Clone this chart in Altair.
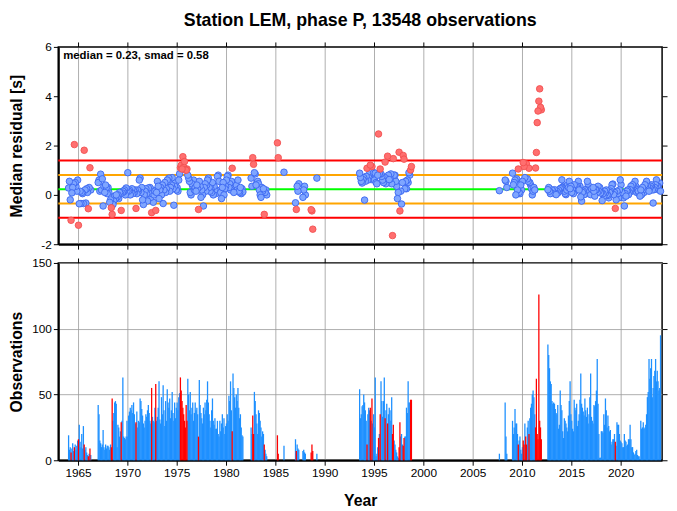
import altair as alt
import pandas as pd

TITLE = "Station LEM, phase P, 13548 observations"
MEDIAN = 0.23
SMAD = 0.58

# ---- monthly segments: start month, observation counts, median residuals ----
start_a = "1964-01"
counts_a = [19, 8, 10, 6, 9, 13, 7, 10, 12, 8, 11, 15,
            16, 27, 14, 10, 20, 9, 26, 12, 8, 10, 6, 4,
            3, 5, 9, 4]
resid_a = [0.28, 0.55, -0.2, -1.03, 0.08, 0.3, 0.45, 2.04, 0.5, 0.35, 0.15, 0.6,
           -1.23, -0.36, 0.15, -0.35, 0.1, 0.05, -0.35, 1.81, 0.2, -0.33, 0.25, 0.1,
           -0.56, 0.3, 1.1, 0.2]

start_b = "1967-01"
counts_b = [42, 35, 15, 13, 10, 12, 23, 10, 8, 12, 9, 11,
            11, 10, 8, 12, 10, 47, 30, 36, 44, 45, 43, 10,
            27, 25, 18, 22, 29, 30, 63, 18, 17, 16, 18, 30,
            18, 34, 37, 40, 38, 42, 36, 44, 35, 28, 29, 37,
            25, 30, 29, 47, 45, 39, 34, 28, 25, 30, 35, 33,
            38, 42, 36, 30, 28, 55, 33, 30, 29, 40, 58, 30,
            33, 40, 60, 31, 28, 48, 35, 57, 38, 26, 45, 30,
            54, 44, 40, 47, 32, 38, 52, 36, 30, 44, 32, 40,
            44, 38, 48, 51, 63, 53, 45, 40, 35, 30, 25, 42,
            30, 62, 50, 38, 52, 35, 40, 44, 30, 36, 44, 38,
            40, 35, 18, 61, 42, 36, 32, 28, 40, 35, 44, 38,
            46, 60, 44, 35, 30, 25, 38, 47, 30, 27, 32, 24,
            24, 30, 20, 18, 30, 22, 28, 35, 25, 32, 20, 26,
            28, 35, 30, 49, 45, 60, 38, 22, 66, 55, 48, 40,
            50, 45, 55, 40, 32, 35, 25, 19, 18]
resid_b = [0.5, 0.6, 0.15, 0.84, 0.2, 0.65, -0.45, 0.35, 0.1, 0.4, 0.3, 0.05,
           0.3, 0.1, -0.3, -0.2, -0.52, -0.79, -0.39, -0.25, -0.05, -0.15, 0.0, -0.1,
           0.0, -0.15, 0.1, 0.05, -0.63, 0.08, 0.15, 0.12, 0.2, 0.0, 0.28, 0.15,
           0.9, 0.15, 0.2, 0.0, 0.1, 0.25, 0.05, 0.18, 0.1, 0.2, -0.55, 0.05,
           0.2, 0.15, 0.6, 0.68, 0.1, 0.3, -0.2, -0.39, 0.0, 0.15, 0.25, 0.05,
           -0.25, 0.28, 0.05, 0.3, -0.1, -0.72, 0.2, -0.3, 0.0, 0.15, -0.63, 0.1,
           0.55, 0.35, -0.15, 0.2, 0.3, 0.0, 0.4, -0.35, 0.2, 0.5, 0.1, 0.25,
           0.6, 0.55, 0.68, 0.15, 0.3, 0.4, 0.7, 0.25, -0.42, 0.35, 0.5, 0.2,
           0.3, 0.15, 0.6, 0.85, 1.1, 1.2, 1.05, 1.55, 1.12, 1.35, 1.02, 1.0,
           1.05, 0.8, 0.68, 0.55, 0.1, 0.0, 0.45, 0.35, 0.6, 0.2, 0.3, 0.15,
           0.4, 0.25, -0.59, 0.55, 0.35, -0.1, 0.2, 0.0, -0.45, 0.3, 0.45, 0.15,
           0.4, 0.6, 0.68, 0.3, 0.15, 0.25, 0.1, 0.5, 0.0, 0.35, 0.2, 0.05,
           0.2, 0.75, 0.8, 0.55, 0.15, 0.1, -0.15, 0.3, 0.5, 0.0, 0.25, 0.35,
           0.6, 0.75, 0.8, 0.3, 0.45, 0.2, 0.55, 1.08, 0.35, 0.1, 0.15, 0.5,
           0.4, 0.2, 0.6, 0.15, 0.1, 0.3, 0.05, 0.25, 0.12]

start_c = "1982-07"
counts_c = [25, 20, 34, 20, 52, 45, 35, 28, 20, 38, 36, 30, 25, 18, 22, 20, 12, 8, 5, 3]
resid_c = [0.68, 0.35, 1.51, 1.24, 0.9, 0.85, 0.4, 0.5, 0.55, 0.45, 0.2, 0.0,
           -0.1, 0.3, 0.15, 0.25, -0.79, 0.1, 0.2, 0.0]

start_d = "1985-03"
counts_d = [19, 5]
resid_d = [2.11, 1.51]

start_e = "1985-11"
counts_e = [11]
resid_e = [0.92]

start_f = "1987-01"
counts_f = [16, 7, 12, 9, 8]
resid_f = [-0.32, -0.59, 0.35, 0.15, 0.45]

start_g = "1987-10"
counts_g = [7, 8, 6, 5]
resid_g = [-0.1, 0.2, 0.35, 0.0]

start_h = "1988-08"
counts_h = [6, 12, 7]
resid_h = [-0.6, -0.65, -1.39]

start_i = "1989-03"
counts_i = [5]
resid_i = [0.68]

start_j = "1993-07"
counts_j = [54, 32, 35, 41, 42, 50, 44, 38, 30, 12,
            35, 40, 38, 40, 30, 47, 28, 35, 25, 63,
            3, 5, 10, 17, 20, 35, 60, 45, 33, 45,
            63, 32, 38, 43, 28, 35, 40, 38, 30, 48,
            20, 27, 15, 12, 8, 6, 3, 2, 10, 29,
            18, 20, 12, 11, 17, 18, 18, 40, 36, 60,
            44, 44, 46, 46]
resid_j = [0.88, 0.71, 0.55, 0.48, 0.62, 0.7, -0.21, 0.55, 0.75, 1.08,
           0.6, 0.7, 0.85, 1.21, 0.62, 1.15, 0.75, 0.9, 0.6, 0.88,
           0.5, 0.45, 0.8, 2.47, 0.85, 1.05, 0.85, 0.75, 0.6, 0.5,
           0.72, 1.33, 0.45, 0.65, 1.57, 0.8, 0.62, 0.65, 0.85, 0.45,
           -1.65, 1.47, 0.8, 0.8, 0.55, 0.35, -0.15, 0.1, 1.73, -0.65,
           0.15, -0.37, 0.5, 1.6, 1.45, 0.25, 0.55, 0.25, 0.6, 0.5,
           0.9, 0.8, 1.01, 1.15]

start_k = "2007-09"
counts_k = [5]
resid_k = [0.17]

start_l = "2008-04"
counts_l = [44, 18, 5]
resid_l = [0.6, 0.55, 0.3]

start_m = "2009-01"
counts_m = [30, 20, 25, 39, 28, 28, 20, 12, 15, 18, 8, 5,
            10, 15, 12, 28, 18, 12, 25, 30, 20, 32, 40, 43,
            50, 53, 48, 35, 25, 62, 20, 16, 126, 30, 25, 16]
resid_m = [0.88, 0.41, 0.5, 0.6, 0.0, 0.65, 0.2, 1.05, 0.1, 0.05, 0.4, 0.2,
           0.55, 1.31, 1.15, 0.7, 1.2, 1.25, 0.65, 0.55, 1.08, 0.5, 0.4, 0.25,
           0.0, 0.15, 0.3, 0.2, 1.09, 1.72, 2.93, 3.4, 3.8, 4.3, 3.55, 3.45]

start_n = "2012-08"
counts_n = [88, 80, 70, 60, 58, 45, 43, 44, 43, 39,
            36, 35, 42, 24, 27, 53, 42, 38, 22, 17,
            32, 30, 28, 25, 22, 34, 45, 60, 35, 30,
            24, 22, 46, 40, 38, 43, 26, 30, 35, 46,
            66, 43, 40, 37, 34, 47, 38, 33, 40, 28,
            35, 48, 66, 33, 30, 28, 42, 41, 45, 53,
            77, 43, 20, 2, 2, 22, 22, 21, 35, 27,
            47, 38, 25, 34, 26, 22, 23, 12, 14, 16,
            16, 20, 14, 11, 29, 27, 27, 20, 15, 14,
            13, 10, 10, 20, 15, 14, 11, 12, 16, 16,
            27, 16, 10, 10, 6, 4, 5, 7, 8, 4,
            3, 3, 1, 30, 24, 25, 29, 24, 25, 27,
            35, 48, 52, 77, 62, 70, 77, 48, 55, 64,
            68, 77, 60, 68, 60, 53, 55, 95]
resid_n = [0.21, 0.3, 0.15, 0.05, 0.08, 0.2, 0.15, 0.1, 0.21, 0.12,
           0.01, 0.15, 0.08, 0.2, 0.15, 0.25, 0.28, 0.61, 0.3, 0.35,
           0.15, 0.05, 0.01, 0.2, 0.41, 0.3, 0.55, 0.25, 0.35, 0.1,
           0.21, 0.05, 0.41, 0.15, 0.21, 0.3, 0.35, 0.55, 0.2, 0.35,
           -0.08, -0.25, 0.1, 0.15, 0.01, 0.2, 0.21, 0.05, 0.55, 0.41,
           0.1, 0.15, 0.01, 0.25, 0.21, 0.3, 0.15, -0.05, 0.2, 0.21,
           0.1, 0.35, 0.15, 0.3, 0.08, 0.1, -0.23, 0.05, -0.05, 0.15,
           0.08, 0.2, 0.01, -0.02, -0.12, 0.1, 0.15, 0.25, 0.41, 0.44,
           0.01, 0.1, -0.55, -0.2, 0.15, 0.05, -0.12, 0.2, 0.61, 0.41,
           0.1, 0.01, -0.12, -0.45, 0.05, -0.05, 0.15, 0.2, 0.01, 0.1,
           0.21, 0.35, 0.15, 0.41, 0.21, 0.3, 0.55, 0.35, 0.1, 0.2,
           0.15, 0.05, -0.05, 0.2, 0.01, 0.3, 0.21, 0.1, 0.41, 0.3,
           0.55, 0.35, 0.25, 0.15, 0.28, 0.35, 0.41, 0.2, -0.33, 0.21,
           0.3, 0.41, 0.61, 0.35, 0.35, 0.2, 0.48, 0.15]

segments = [
    (start_a, counts_a, resid_a), (start_b, counts_b, resid_b),
    (start_c, counts_c, resid_c), (start_d, counts_d, resid_d),
    (start_e, counts_e, resid_e), (start_f, counts_f, resid_f),
    (start_g, counts_g, resid_g), (start_h, counts_h, resid_h),
    (start_i, counts_i, resid_i), (start_j, counts_j, resid_j),
    (start_k, counts_k, resid_k), (start_l, counts_l, resid_l),
    (start_m, counts_m, resid_m), (start_n, counts_n, resid_n),
]

year_ticks = [1965, 1970, 1975, 1980, 1985, 1990, 1995, 2000, 2005, 2010, 2015, 2020]
resid_ticks = [-2, 0, 2, 4, 6]
obs_ticks = [0, 50, 100, 150]

# ---- build table ----
rows = []
for start, counts, resid in segments:
    assert len(counts) == len(resid), start
    y0, m0 = (int(v) for v in start.split("-"))
    for i, (c, r) in enumerate(zip(counts, resid)):
        rows.append({"t": y0 + (m0 - 1 + i + 0.5) / 12.0, "n": c, "res": r})
df = pd.DataFrame(rows)
lo, hi = MEDIAN - 1.25 * SMAD, MEDIAN + 1.25 * SMAD
df["flag"] = ["out" if (r > hi or r < lo) else "in" for r in df["res"]]
df = df.sort_values("flag").reset_index(drop=True)

lines_df = pd.DataFrame({
    "level": [MEDIAN + k * SMAD for k in (-2, -1, 0, 1, 2)],
    "kind": ["red", "orange", "green", "orange", "red"],
})
label_df = pd.DataFrame({"label": [f"median = {MEDIAN}, smad = {SMAD}"]})

W, H = 612, 200
FONT = "Liberation Sans"
xscale = alt.Scale(domain=[1963.0, 2024.2], nice=False, zero=False, padding=0)
ytop = alt.Scale(domain=[-2, 6], nice=False, zero=False, padding=0)
ybot = alt.Scale(domain=[0, 150], nice=False, padding=0)


def frame_axes(field_y, yscale, yvals):
    return alt.Chart(df).mark_point(opacity=0).encode(
        x=alt.X("t:Q", scale=xscale,
                axis=alt.Axis(orient="top", values=year_ticks, labels=False, grid=False,
                              title=None, domain=False, tickSize=5, minExtent=0, maxExtent=5)),
        y=alt.Y(f"{field_y}:Q", scale=yscale,
                axis=alt.Axis(orient="right", values=yvals, labels=False, grid=False,
                              title=None, domain=False, tickSize=5, minExtent=0, maxExtent=5)),
    )


lines = alt.Chart(lines_df).mark_rule().encode(
    y=alt.Y("level:Q", scale=ytop, axis=None),
    color=alt.Color("kind:N", scale=alt.Scale(domain=["red", "orange", "green"],
                                              range=["#ff0000", "#ffa500", "#00ff00"]),
                    legend=None),
    strokeWidth=alt.StrokeWidth("kind:N", scale=alt.Scale(domain=["red", "orange", "green"],
                                                          range=[2, 2, 4.5]),
                                legend=None),
)

points = alt.Chart(df).mark_point(shape="circle", filled=True, size=44, strokeWidth=0.9, opacity=1).encode(
    x=alt.X("t:Q", scale=xscale,
            axis=alt.Axis(values=year_ticks, labels=False, title=None, tickSize=5,
                          minExtent=0, maxExtent=5)),
    y=alt.Y("res:Q", scale=ytop,
            axis=alt.Axis(values=resid_ticks, title="Median residual [s]", titleX=-34,
                          labelExpr="datum.value + ''")),
    fill=alt.Fill("flag:N", scale=alt.Scale(domain=["in", "out"], range=["#7fa6ff", "#ff6f6f"]),
                  legend=None),
    stroke=alt.Stroke("flag:N", scale=alt.Scale(domain=["in", "out"], range=["#3a66f0", "#f25050"]),
                      legend=None),
)

label = alt.Chart(label_df).mark_text(align="left", baseline="top", font=FONT, fontSize=11.5,
                                      fontWeight="bold", color="black").encode(
    text="label:N", x=alt.value(5), y=alt.value(3))

top = alt.layer(lines, points, frame_axes("res", ytop, resid_ticks), label).resolve_axis(
    x="independent", y="independent").properties(
    width=W, height=H,
    title=alt.TitleParams(TITLE, font=FONT, fontSize=18, fontWeight="bold", anchor="middle",
                          frame="group", offset=6, color="black", dy=-5))

bars = alt.Chart(df).mark_bar(size=1.3).encode(
    x=alt.X("t:Q", scale=xscale,
            axis=alt.Axis(values=year_ticks, format="d", title="Year", tickSize=5, titlePadding=15)),
    y=alt.Y("n:Q", scale=ybot,
            axis=alt.Axis(values=obs_ticks, title="Observations", titleX=-34)),
    color=alt.Color("flag:N", scale=alt.Scale(domain=["in", "out"], range=["#1e90ff", "#ff0000"]),
                    legend=None),
)

bottom = alt.layer(bars, frame_axes("n", ybot, obs_ticks)).resolve_axis(
    x="independent", y="independent").properties(width=W, height=H)

chart = alt.vconcat(top, bottom, spacing=5).resolve_scale(
    color="independent", fill="independent", stroke="independent", strokeWidth="independent"
).properties(
    padding={"left": 0, "top": 0, "right": 0, "bottom": 0}
).configure_view(
    stroke="black", strokeWidth=1.5
).configure_axis(
    labelFont=FONT, labelFontSize=12, labelColor="black", labelPadding=2,
    titleFont=FONT, titleFontSize=16, titleFontWeight="bold", titleColor="black",
    tickColor="black", tickWidth=1, domainColor="black", domainWidth=2,
    gridColor="#9a9a9a", gridWidth=0.8, gridOpacity=1,
)

chart.save("out.html", embed_options={"renderer": "svg", "actions": False})
